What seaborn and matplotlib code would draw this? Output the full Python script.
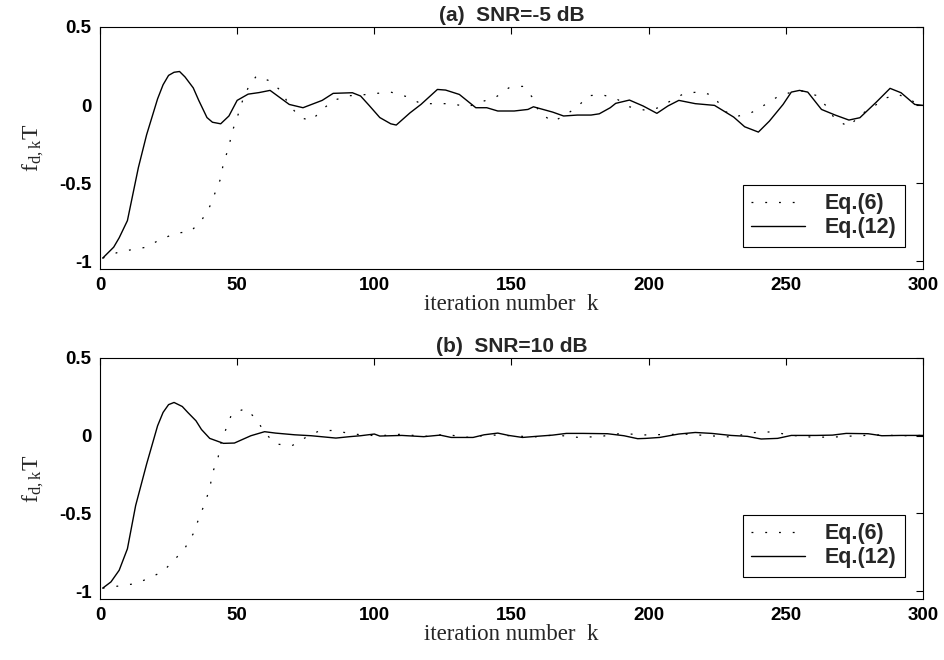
import numpy as np
import pandas as pd
import matplotlib
matplotlib.use('Agg')
import matplotlib.pyplot as plt
import seaborn as sns

# Panel (a) SNR=-5 dB, Eq.(12) (solid) and Eq.(6) (dotted)
k_a12 = [1, 5, 7, 10, 14, 17, 21, 23, 25, 27, 29, 31, 34, 36, 39, 41, 44, 47, 50, 54,
         58, 62, 69, 74, 81, 85, 92, 95, 98, 102, 106, 108, 113, 117, 123, 126, 131, 137, 141, 145,
         151, 156, 158, 165, 169, 174, 179, 182, 186, 188, 193, 198, 203, 207, 211, 217, 224, 227, 231, 235,
         240, 244, 249, 252, 255, 258, 263, 268, 273, 277, 283, 288, 292, 297, 300]
f_a12 = [-0.98, -0.91, -0.85, -0.74, -0.40, -0.19, 0.04, 0.13, 0.19, 0.21, 0.215, 0.18, 0.11, 0.03, -0.08, -0.11, -0.12, -0.07, 0.03, 0.07,
         0.08, 0.094, 0.004, -0.017, 0.03, 0.075, 0.079, 0.058, 0.0, -0.08, -0.12, -0.128, -0.05, 0.004, 0.10, 0.096, 0.068, -0.017, -0.017, -0.038,
         -0.038, -0.028, -0.011, -0.045, -0.07, -0.064, -0.064, -0.056, -0.017, 0.011, 0.032, -0.006, -0.053, -0.006, 0.03, 0.009, -0.002, -0.034, -0.077, -0.139,
         -0.173, -0.103, 0.004, 0.083, 0.094, 0.083, -0.028, -0.064, -0.096, -0.081, 0.019, 0.107, 0.079, 0.004, -0.002]

k_a6 = [1, 7, 12, 17, 22, 28, 33, 37, 40, 42, 44, 45, 47, 48, 50, 52, 54, 57, 62, 66,
        69, 73, 77, 81, 85, 91, 95, 101, 106, 112, 117, 122, 128, 134, 139, 144, 149, 154, 158, 160,
        165, 169, 174, 178, 183, 188, 193, 199, 203, 208, 213, 219, 224, 227, 232, 237, 242, 247, 252, 256,
        261, 265, 268, 273, 277, 282, 286, 291, 296, 299]
f_a6 = [-0.98, -0.94, -0.925, -0.91, -0.86, -0.82, -0.81, -0.74, -0.65, -0.56, -0.47, -0.37, -0.27, -0.18, -0.08, 0.03, 0.11, 0.186, 0.154, 0.09,
        0.0, -0.08, -0.10, -0.03, 0.03, 0.06, 0.064, 0.075, 0.083, 0.053, 0.009, 0.009, 0.009, -0.011, 0.021, 0.047, 0.11, 0.12, 0.043, -0.045,
        -0.107, -0.07, -0.013, 0.06, 0.066, 0.043, -0.011, -0.034, -0.02, 0.026, 0.075, 0.085, 0.058, -0.034, -0.073, -0.053, -0.002, 0.053, 0.083, 0.09,
        0.062, -0.011, -0.092, -0.139, -0.064, -0.01, 0.043, 0.068, 0.03, -0.021]

# Panel (b) SNR=10 dB
k_b12 = [1, 4, 7, 10, 13, 17, 21, 23, 25, 27, 30, 32, 35, 37, 40, 45, 49, 55, 60, 64,
         71, 77, 86, 91, 95, 100, 102, 110, 118, 124, 128, 136, 140, 145, 149, 154, 159, 165, 170, 176,
         185, 191, 196, 199, 204, 211, 217, 223, 230, 236, 241, 247, 252, 261, 267, 272, 280, 285, 292, 300]
f_b12 = [-0.98, -0.94, -0.865, -0.727, -0.449, -0.182, 0.064, 0.15, 0.2, 0.214, 0.188, 0.15, 0.096, 0.04, -0.017, -0.049, -0.047, 0.0, 0.026, 0.017,
         0.006, 0.0, -0.015, -0.006, 0.0, 0.011, -0.002, 0.002, -0.006, 0.004, -0.011, -0.011, 0.006, 0.017, 0.002, -0.011, -0.004, 0.004, 0.015, 0.015,
         0.013, 0.0, -0.019, -0.017, -0.011, 0.011, 0.021, 0.015, 0.002, -0.004, -0.021, -0.017, 0.002, 0.002, 0.004, 0.015, 0.013, 0.0, 0.002, 0.002]

k_b6 = [1, 7, 13, 18, 23, 27, 31, 34, 36, 38, 40, 41, 43, 44, 46, 48, 53, 57, 60, 64,
        70, 75, 80, 85, 91, 96, 102, 110, 118, 126, 134, 142, 150, 158, 166, 174, 182, 190, 198, 206,
        214, 222, 230, 238, 245, 252, 260, 268, 276, 284, 292, 300]
f_b6 = [-0.98, -0.966, -0.951, -0.915, -0.872, -0.801, -0.722, -0.63, -0.534, -0.444, -0.342, -0.239, -0.145, -0.053, 0.047, 0.139, 0.175, 0.107, 0.021, -0.053,
        -0.064, -0.011, 0.032, 0.034, 0.015, 0.004, 0.0, 0.01, -0.005, 0.008, -0.01, 0.005, 0.0, -0.008, 0.005, -0.01, -0.006, 0.015, 0.005, 0.008,
        0.01, 0.0, -0.008, 0.02, 0.025, 0.003, -0.01, -0.008, 0.0, 0.005, 0.0, 0.002]

titles = ['(a)  SNR=-5 dB', '(b)  SNR=10 dB']
x_ticks = [0, 50, 100, 150, 200, 250, 300]
y_ticks = [0.5, 0, -0.5, -1]
y_tick_labels = ['0.5', '0', '-0.5', '-1']

sns.set_style('white')
plt.rcParams['font.family'] = ['Liberation Sans', 'DejaVu Sans']
plt.rcParams['font.weight'] = 'bold'

fig = plt.figure(figsize=(9.45, 6.6), dpi=100)
axes = [fig.add_axes([0.1058, 0.5924, 0.8709, 0.3667]),
        fig.add_axes([0.1058, 0.0924, 0.8709, 0.3652])]

panels = [(k_a6, f_a6, k_a12, f_a12), (k_b6, f_b6, k_b12, f_b12)]

for ax, (k6, f6, k12, f12), title in zip(axes, panels, titles):
    df6 = pd.DataFrame({'k': k6, 'f': f6})
    df12 = pd.DataFrame({'k': k12, 'f': f12})
    sns.lineplot(data=df6, x='k', y='f', ax=ax, color='black', linewidth=0.9,
                 linestyle=(0, (1.5, 9.5)), estimator=None, sort=False, label='Eq.(6)')
    sns.lineplot(data=df12, x='k', y='f', ax=ax, color='black', linewidth=1.0,
                 estimator=None, sort=False, label='Eq.(12)')

    ax.set_xlim(0, 300)
    ax.set_ylim(-1.05, 0.5)
    ax.set_xticks(x_ticks)
    ax.set_xticklabels([str(t) for t in x_ticks], fontweight='bold')
    ax.set_yticks(y_ticks)
    ax.set_yticklabels(y_tick_labels, fontweight='bold')
    ax.tick_params(direction='in', length=5, width=0.8, top=True, right=True,
                   labelsize=13.5, pad=6, colors='black')
    for sp in ax.spines.values():
        sp.set_visible(True)
        sp.set_color('black')
        sp.set_linewidth(0.8)

    ax.set_title(title, fontsize=15, fontweight='bold', pad=4)
    ax.set_xlabel('iteration number  k', family='Liberation Serif', fontweight='normal',
                  fontsize=16.5, labelpad=0)
    ax.set_ylabel(r'$\mathregular{f_{d,k}T}$', family='Liberation Serif', fontweight='normal',
                  fontsize=17, labelpad=10)

    leg = ax.legend(loc='lower right', bbox_to_anchor=(0.978, 0.091), borderaxespad=0,
                    fancybox=False, framealpha=1, edgecolor='black',
                    prop={'size': 15.5, 'weight': 'bold'},
                    handlelength=2.5, handletextpad=0.9, borderpad=0.4, labelspacing=0.15)
    leg.get_frame().set_linewidth(0.8)

fig.savefig('out.png', dpi=100, facecolor='white')
